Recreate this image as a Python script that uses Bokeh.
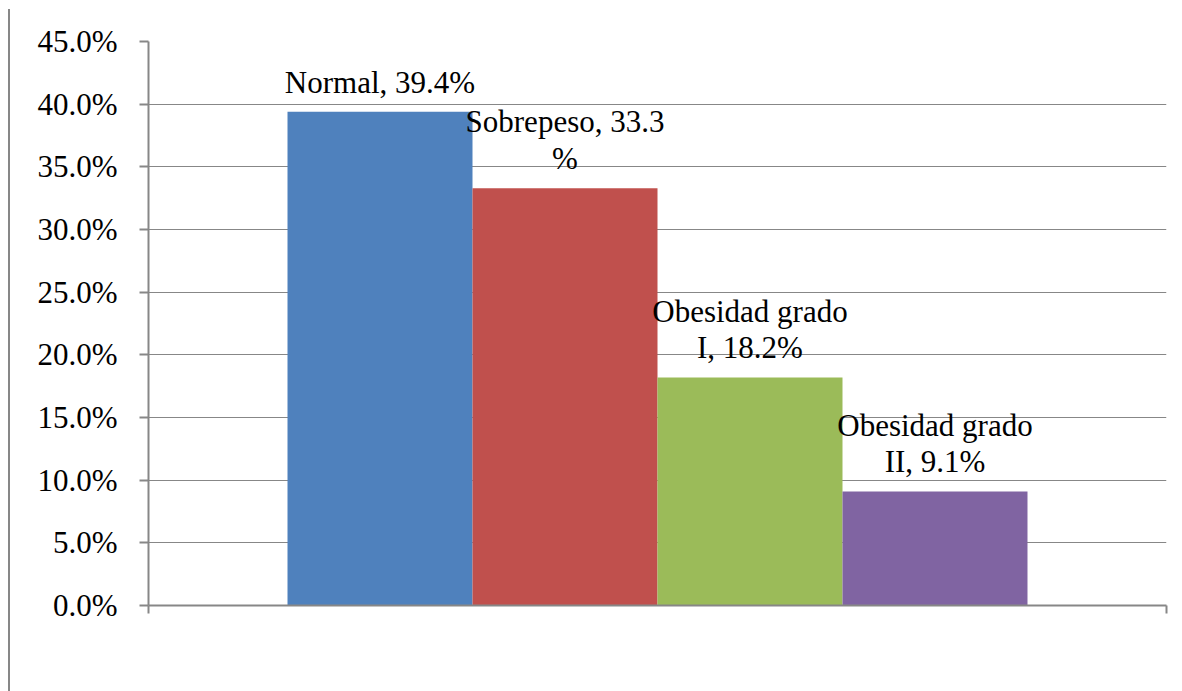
from bokeh.plotting import figure
from bokeh.layouts import row
from bokeh.models import (ColumnDataSource, Range1d, FixedTicker, PrintfTickFormatter,
                          CustomJSTickFormatter, LinearAxis, Label, Div, Spacer)
from bokeh.core.properties import value
from bokeh.embed import file_html
from bokeh.resources import INLINE

# Distribución del estado nutricional (porcentaje)
categories = ["Normal", "Sobrepeso", "Obesidad grado I", "Obesidad grado II"]
percentages = [39.4, 33.3, 18.2, 9.1]
label_texts = ["Normal, 39.4%", "Sobrepeso, 33.3\n%", "Obesidad grado\nI, 18.2%", "Obesidad grado\nII, 9.1%"]
colors = ["#4F81BD", "#C0504D", "#9BBB59", "#8064A2"]
y_ticks = [0, 5, 10, 15, 20, 25, 30, 35, 40, 45]

FONT = "Liberation Serif"
GREY = "#878787"

src = ColumnDataSource(dict(
    x=[i + 0.5 for i in range(len(categories))],
    top=percentages,
    color=colors,
    label=label_texts,
    cat=categories,
))

X0, X1 = -0.7514, 4.7514

p = figure(width=1172, height=691, output_backend="svg", toolbar_location=None,
           x_range=Range1d(X0, X1), y_range=Range1d(0, 45),
           min_border_left=138, min_border_right=16, min_border_top=41, min_border_bottom=86,
           x_axis_type=None)
p.outline_line_color = None
p.background_fill_color = "white"
p.border_fill_color = "white"

p.vbar(x="x", top="top", width=1.0, bottom=0, color="color", line_color=None, source=src)

p.text(x="x", y="top", text="label", source=src, text_align="center", text_baseline="bottom",
       y_offset=-12, text_font=value(FONT), text_font_size="31px", text_color="black",
       text_line_height=1.05)

# vertical axis
yax = p.yaxis[0]
yax.ticker = FixedTicker(ticks=y_ticks)
yax.formatter = PrintfTickFormatter(format="%.1f%%")
yax.major_label_text_font = FONT
yax.major_label_text_font_size = "31px"
yax.major_label_text_color = "black"
yax.major_label_standoff = 22
yax.major_tick_out = 9
yax.major_tick_in = 0
yax.minor_tick_line_color = None
yax.axis_line_color = GREY
yax.axis_line_width = 2
yax.major_tick_line_color = GREY
yax.major_tick_line_width = 2

p.ygrid.ticker = FixedTicker(ticks=y_ticks)
p.ygrid.grid_line_color = GREY
p.ygrid.grid_line_width = 1
p.xgrid.grid_line_color = None

# horizontal axis: end ticks only, no labels
xax = LinearAxis(ticker=FixedTicker(ticks=[X0, X1]),
                 formatter=CustomJSTickFormatter(code="return ''"),
                 major_label_text_color=None,
                 major_tick_out=8, major_tick_in=0, minor_tick_line_color=None,
                 axis_line_color=GREY, axis_line_width=2,
                 major_tick_line_color=GREY, major_tick_line_width=2)
p.add_layout(xax, "below")

# clipped caption text above the chart
p.add_layout(Label(x=-1.081, y=48.45, text="g", text_font=FONT, text_font_size="31px",
                   text_color="black", text_align="center", text_baseline="alphabetic"))

# page border on the left
border = Div(width=2, height=682, margin=(9, 0, 0, 0),
             styles={"background-color": GREY})

layout = row(Spacer(width=8, height=691, margin=0), border, p, spacing=0)
p.margin = 0

open("out.html", "w").write(file_html(layout, INLINE))
